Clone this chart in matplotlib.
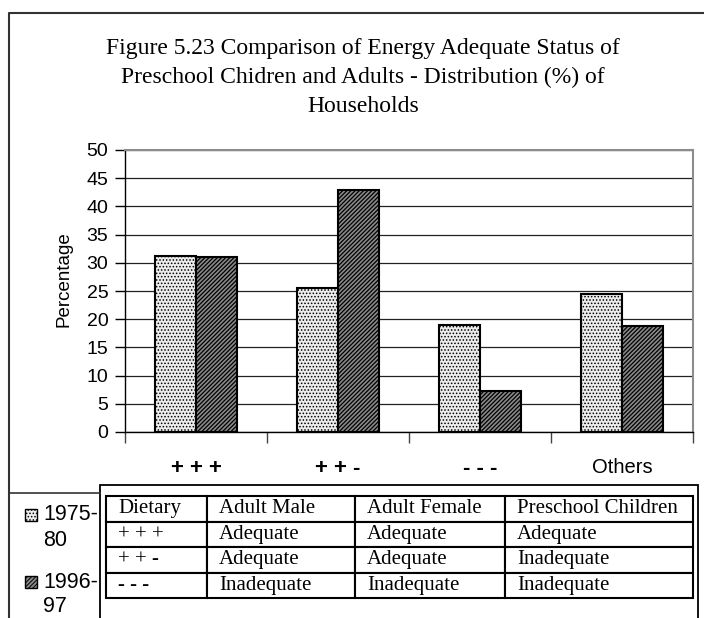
import numpy as np
import matplotlib
matplotlib.use('Agg')
import matplotlib.pyplot as plt
from matplotlib.lines import Line2D
from matplotlib.patches import Rectangle

# ---- data ----
categories = ['+ + +', '+ + -', '- - -', 'Others']
series_labels = ['1975-\n80', '1996-\n97']
values_1975 = [31.2, 25.5, 19.0, 24.4]
values_1996 = [31.0, 42.9, 7.3, 18.8]
y_ticks = [0, 5, 10, 15, 20, 25, 30, 35, 40, 45, 50]

title_lines = ['Figure 5.23 Comparison of Energy Adequate Status of',
               'Preschool Chidren and Adults - Distribution (%) of',
               'Households']

table_header = ['Dietary', 'Adult Male', 'Adult Female', 'Preschool Children']
table_rows = [['+ + +', 'Adequate', 'Adequate', 'Adequate'],
              ['+ + -', 'Adequate', 'Adequate', 'Inadequate'],
              ['- - -', 'Inadequate', 'Inadequate', 'Inadequate']]

W, H = 704, 618
SANS = 'Liberation Sans'
SERIF = 'Liberation Serif'
BAR_W = 0.29


def fx(px):
    return px / W


def fy(py):
    return 1 - py / H


def main():
    plt.rcParams['patch.force_edgecolor'] = True
    plt.rcParams['patch.edgecolor'] = 'black'
    plt.rcParams['hatch.linewidth'] = 0.7

    fig = plt.figure(figsize=(W / 100, H / 100), dpi=100)

    # outer chart frame (cut off at right and bottom)
    fig.add_artist(Line2D([fx(9), fx(9), fx(W)], [fy(H), fy(13), fy(13)],
                          color='#333333', lw=1.5, transform=fig.transFigure))
    fig.add_artist(Line2D([fx(9), fx(100)], [fy(493), fy(493)],
                          color='#333333', lw=1.2, transform=fig.transFigure))

    for i, line in enumerate(title_lines):
        fig.text(fx(363), fy(54 + 29 * i), line, ha='center', va='baseline',
                 family=SERIF, size=17)

    ax = fig.add_axes([fx(125), fy(432), fx(693) - fx(125), fy(150) - fy(432)])
    x = np.arange(len(categories))
    with plt.rc_context({'hatch.color': '#8c8c8c'}):
        bars_a = ax.bar(x - BAR_W / 2, values_1975, BAR_W, color='#ececec',
                        hatch='.....', linewidth=1.5, zorder=3)
    with plt.rc_context({'hatch.color': '#1a1a1a', 'hatch.linewidth': 0.9}):
        bars_b = ax.bar(x + BAR_W / 2, values_1996, BAR_W, color='#8a8a8a',
                        hatch='////////', linewidth=1.5, zorder=3)

    ax.set_xlim(-0.5, len(categories) - 0.5)
    ax.set_ylim(0, 50)
    ax.set_yticks(y_ticks)
    ax.set_yticklabels([str(t) for t in y_ticks], family=SANS, size=14)
    ax.tick_params(axis='y', direction='out', length=7, width=1, pad=5)
    ax.set_xticks(np.arange(len(categories) + 1) - 0.5)
    ax.set_xticklabels([])
    ax.tick_params(axis='x', which='major', direction='out', length=8, width=1, color='#444444')
    ax.set_xticks(x, minor=True)
    ax.set_xticklabels(categories, minor=True, family=SANS, size=14.5)
    ax.tick_params(axis='x', which='minor', length=0, pad=19)
    for lab in ax.get_xticklabels(minor=True):
        if lab.get_text() != 'Others':
            lab.set_fontweight('bold')
            lab.set_fontsize(16)

    ax.set_axisbelow(True)
    ax.yaxis.grid(True, color='#222222', lw=0.9)
    for side in ('top', 'right'):
        ax.spines[side].set_color('#8c8c8c')
        ax.spines[side].set_linewidth(1.5)
    for side in ('left', 'bottom'):
        ax.spines[side].set_color('black')
        ax.spines[side].set_linewidth(1.0)
    ax.set_ylabel('Percentage', family=SANS, size=13.5)
    ax.yaxis.set_label_coords(-0.093, 0.543)

    # legend, drawn by hand so the box sits at the first line of each label
    for bars, label, yc in zip((bars_a, bars_b), series_labels, (515, 582)):
        src = bars[0]
        sq = Rectangle((fx(25), fy(yc + 6)), fx(12), fy(yc - 6) - fy(yc + 6),
                       transform=fig.transFigure, facecolor=src.get_facecolor(),
                       hatch=src.get_hatch(), linewidth=1.0)
        sq._hatch_color = src._hatch_color
        fig.add_artist(sq)
        for j, part in enumerate(label.split('\n')):
            fig.text(fx(43), fy(yc + 25 * j), part, ha='left', va='center',
                     family=SANS, size=15.5)

    # data table pasted under the chart
    fig.add_artist(Rectangle((fx(100), fy(H + 5)), fx(698) - fx(100), fy(485) - fy(H + 5),
                             transform=fig.transFigure, facecolor='white',
                             edgecolor='black', linewidth=1.3, zorder=-1))
    tax = fig.add_axes([fx(106), fy(598), fx(693) - fx(106), fy(496) - fy(598)])
    tax.axis('off')
    col_px = [101, 148, 150, 188]
    tbl = tax.table(cellText=[table_header] + table_rows, cellLoc='left',
                    colWidths=[c / sum(col_px) for c in col_px], bbox=[0, 0, 1, 1])
    tbl.auto_set_font_size(False)
    tbl.set_fontsize(15)
    for (r, c), cell in tbl.get_celld().items():
        cell.set_linewidth(1.5)
        cell.set_edgecolor('black')
        cell.PAD = 12 / col_px[c]
        cell.get_text().set_fontfamily(SERIF)

    fig.savefig('out.png', dpi=100)


if __name__ == '__main__':
    main()
